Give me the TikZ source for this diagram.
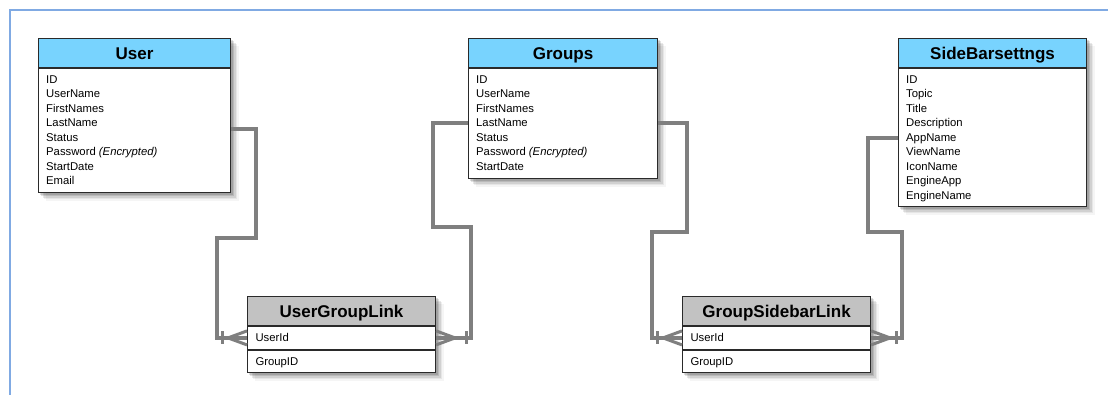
\documentclass[tikz,border=0pt]{standalone}
\usepackage{fontspec}
\setmainfont{Liberation Sans}
\usetikzlibrary{calc,backgrounds}
\definecolor{hdrblue}{HTML}{78D3FE}
\definecolor{hdrgray}{HTML}{C2C2C2}
\definecolor{conngray}{HTML}{7F7F7F}
\definecolor{framecol}{HTML}{80AAE3}
\definecolor{edgecol}{HTML}{2A2A2A}
\newcommand\erfoot[3]{%
  \draw[foot] ($(#1)+(#2*19,0)$) -- ($(#1)+(0,-7)$);
  \draw[foot] ($(#1)+(#2*19,0)$) -- ($(#1)+(0,7)$);
  \draw[foot] ($(#1)+(#2*#3,-6.5)$) -- ($(#1)+(#2*#3,6.5)$);
}
\newcommand\tshadow[2]{%
  \foreach \d/\o in {1.5/0.13,3/0.11,4.5/0.09,6/0.06,7.5/0.04}{%
    \fill[black,opacity=\o] ($(#1.north west)+(\d,\d)$) rectangle ($(#2.south east)+(\d,\d)$);
  }%
}
\begin{document}
\begin{tikzpicture}[x=1pt,y=-1pt,
  tbox/.style={draw=edgecol,line width=1.1pt,fill=white,inner sep=0pt,anchor=north west},
  hdr/.style={tbox,minimum height=29pt,font=\fontsize{17}{20}\selectfont\bfseries,text height=12.2pt,text depth=0pt},
  bluehdr/.style={hdr,fill=hdrblue},
  grayhdr/.style={hdr,fill=hdrgray,minimum width=188pt},
  rows/.style={anchor=north west,inner sep=0pt,align=left,font=\fontsize{11.3}{14.5}\selectfont},
  linkrow/.style={tbox,minimum height=22.5pt,text width=172pt,inner xsep=8pt,align=left,
     font=\fontsize{11.3}{14.5}\selectfont,text height=8.1pt,text depth=0pt},
  conn/.style={draw=conngray,line width=4pt},
  foot/.style={draw=conngray,line width=3pt}
]
\useasboundingbox (0,0) rectangle (1108,394);
\draw[framecol,line width=2pt] (10,395) -- (10,10) -- (1109,10);

% User
\node[bluehdr,minimum width=192pt] (userH) at (38,38) {User};
\node[tbox,minimum width=192pt,minimum height=124pt] (user) at (userH.south west) {};
\node[rows] (userT) at ($(user.north west)+(8,7)$) {ID\\UserName\\FirstNames\\LastName\\Status\\Password \textit{(Encrypted)}\\StartDate\\Email};

% Groups
\node[bluehdr,minimum width=189pt] (groupsH) at (468,38) {Groups};
\node[tbox,minimum width=189pt,minimum height=110pt] (groups) at (groupsH.south west) {};
\node[rows] (groupsT) at ($(groups.north west)+(8,7)$) {ID\\UserName\\FirstNames\\LastName\\Status\\Password \textit{(Encrypted)}\\StartDate};

% SideBarsettngs
\node[bluehdr,minimum width=188pt] (sideH) at (898,38) {SideBarsettngs};
\node[tbox,minimum width=188pt,minimum height=138pt] (side) at (sideH.south west) {};
\node[rows] (sideT) at ($(side.north west)+(8,7)$) {ID\\Topic\\Title\\Description\\AppName\\ViewName\\IconName\\EngineApp\\EngineName};

% UserGroupLink
\node[grayhdr] (uglH) at (247,296) {UserGroupLink};
\node[linkrow] (ugl1) at (uglH.south west) {UserId};
\node[linkrow] (ugl2) at (ugl1.south west) {GroupID};

% GroupSidebarLink
\node[grayhdr] (gslH) at (682,296) {GroupSidebarLink};
\node[linkrow] (gsl1) at (gslH.south west) {UserId};
\node[linkrow] (gsl2) at (gsl1.south west) {GroupID};

% soft shadows
\begin{scope}[on background layer]
  \fill[white] (0,0) rectangle (1108,394);
  \tshadow{userH}{user}
  \tshadow{groupsH}{groups}
  \tshadow{sideH}{side}
  \tshadow{uglH}{ugl2}
  \tshadow{gslH}{gsl2}
\end{scope}

% connectors
\draw[conn] ($(user.north east)+(0,61)$) -| (256,238) -- (217,238) |- (ugl1.west);
\draw[conn] ($(groups.north west)+(0,55)$) -| (433,227) -- (471,227) |- (ugl1.east);
\draw[conn] ($(groups.north east)+(0,55)$) -| (687,232) -- (652,232) |- (gsl1.west);
\draw[conn] ($(side.north west)+(0,70)$) -| (868,232) -- (902,232) |- (gsl1.east);

\erfoot{ugl1.west}{-1}{25}
\erfoot{ugl1.east}{1}{30}
\erfoot{gsl1.west}{-1}{25}
\erfoot{gsl1.east}{1}{25}
\end{tikzpicture}
\end{document}
